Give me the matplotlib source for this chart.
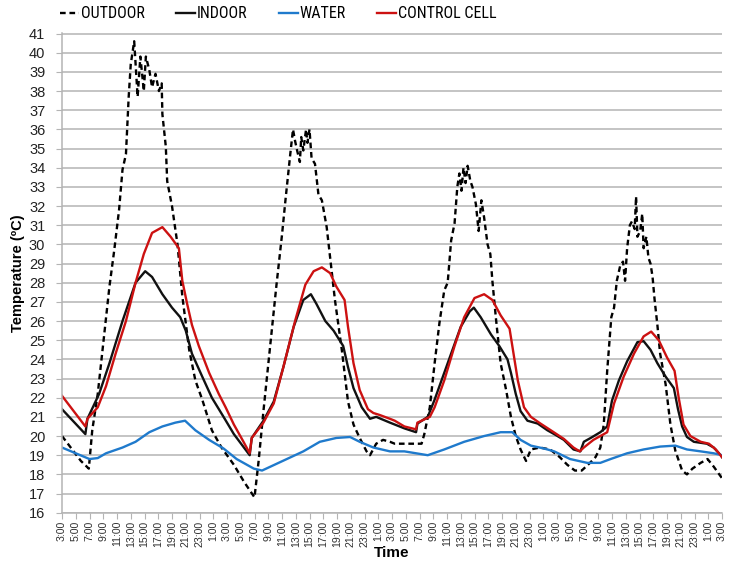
import matplotlib
matplotlib.use("Agg")
import matplotlib.pyplot as plt
from matplotlib.lines import Line2D
from matplotlib import font_manager
from matplotlib.font_manager import FontProperties
from matplotlib.textpath import TextPath

# ---------------- data (hours since 3:00 of day 1, temperature in ºC) ----------------
outdoor_t = [0, 2.75, 3.9, 4.4, 5.2, 5.9, 6.9, 7.6, 8.3, 8.8, 9.3, 9.7, 10.0, 10.5, 11.0, 11.4, 11.9,
             12.2, 12.7, 13.1, 13.6, 14.1, 14.5, 14.6, 15.1, 15.3, 16.0, 16.8, 17.5, 18.5, 19.4, 20.4,
             21.8, 23.2, 25.0, 26.5, 28.0, 28.6, 29.3, 30.3, 31.2, 32.0, 32.5, 33.2, 33.6, 33.9, 34.2,
             34.6, 34.8, 35.1, 35.5, 35.7, 36.0, 36.3, 36.8, 37.3, 37.8, 38.5, 39.0, 39.7, 40.7, 41.6,
             42.4, 43.3, 44.3, 44.8, 45.7, 46.7, 47.7, 48.4, 49.8, 52.3, 52.7, 53.5, 54.2, 54.9, 55.6,
             56.1, 56.6, 57.1, 57.5, 57.8, 58.1, 58.4, 58.7, 59.0, 59.4, 59.7, 60.2, 60.6, 61.0, 61.4,
             61.9, 62.3, 62.6, 63.1, 63.8, 64.6, 65.3, 66.0, 66.7, 67.5, 68.2, 69.5, 71.0, 72.4, 73.5,
             74.6, 75.6, 76.8, 77.6, 78.3, 78.8, 79.3, 79.9, 80.3, 80.7, 81.2, 81.6, 81.9, 82.2, 82.6,
             82.9, 83.3, 83.5, 83.7, 84.1, 84.4, 84.6, 85.0, 85.3, 85.6, 85.9, 86.2, 86.6, 87.0, 87.8,
             88.5, 89.2, 90.2, 90.9, 91.7, 92.9, 93.9, 94.8, 95.8, 96.0]
outdoor_T = [20.0, 18.7, 18.3, 20.3, 22.2, 24.5, 27.8, 29.7, 31.8, 33.9, 34.7, 37.7, 39.4, 40.6, 37.7, 39.8, 38.0,
             39.8, 39.1, 38.2, 38.9, 38.0, 38.4, 36.8, 35.1, 33.3, 32.0, 30.0, 27.3, 24.5, 22.9, 21.9,
             20.3, 19.4, 18.5, 17.6, 16.8, 18.7, 21.3, 24.8, 27.9, 30.5, 32.3, 34.7, 36.0, 35.4, 34.9,
             34.3, 35.6, 34.9, 36.0, 35.3, 36.0, 34.5, 34.2, 32.6, 32.3, 30.9, 29.3, 27.1, 24.5, 21.8,
             20.6, 19.9, 19.2, 19.0, 19.6, 19.8, 19.7, 19.6, 19.6, 19.6, 20.1, 21.5, 23.8, 25.9, 27.6,
             28.0, 30.2, 31.1, 33.0, 33.7, 32.8, 34.0, 33.2, 34.1, 33.3, 33.0, 32.1, 30.7, 32.3, 31.4,
             30.0, 29.5, 28.1, 26.2, 23.8, 22.4, 21.0, 20.0, 19.3, 18.7, 19.3, 19.4, 19.3, 18.9, 18.5,
             18.2, 18.2, 18.6, 18.9, 19.4, 20.6, 23.4, 26.2, 26.7, 28.1, 28.9, 29.1, 28.1, 29.8, 31.0,
             31.2, 30.8, 32.5, 30.4, 30.7, 31.6, 29.8, 30.4, 29.3, 29.0, 28.3, 27.1, 25.8, 24.3, 22.7,
             20.6, 19.25, 18.2, 18.0, 18.3, 18.6, 18.8, 18.4, 17.9, 17.8]

indoor_t = [0, 3.4, 3.7, 5.4, 6.9, 8.8, 10.7, 12.1, 13.1, 14.6, 16.0, 17.2, 18.0, 18.9, 20.4, 21.8, 23.5,
            25.0, 27.3, 27.6, 29.3, 30.8, 32.2, 33.7, 35.1, 36.2, 37.0, 38.3, 39.5, 40.9, 41.6, 42.4,
            43.6, 44.8, 45.7, 47.7, 49.8, 51.5, 51.7, 53.2, 54.2, 55.4, 56.6, 58.0, 59.3, 59.9, 60.9,
            62.4, 63.6, 64.8, 65.3, 66.0, 66.7, 67.7, 69.2, 70.6, 71.6, 73.0, 74.4, 75.4, 75.9, 76.9,
            78.3, 79.3, 80.0, 81.0, 82.2, 83.7, 84.6, 85.6, 86.6, 87.8, 89.0, 89.6, 90.2, 90.9, 91.9,
            93.8, 94.8, 95.8, 96.0]
indoor_T = [21.4, 20.1, 20.9, 22.2, 23.8, 26.0, 28.0, 28.6, 28.3, 27.4, 26.7, 26.2, 25.5, 24.3, 23.1, 22.0, 21.0,
            20.1, 19.0, 19.9, 20.8, 21.8, 23.6, 25.7, 27.1, 27.4, 26.9, 26.0, 25.5, 24.7, 23.6, 22.5,
            21.5, 20.9, 21.0, 20.7, 20.4, 20.2, 20.65, 21.0, 21.9, 23.1, 24.3, 25.7, 26.5, 26.7, 26.2,
            25.3, 24.7, 24.0, 23.3, 22.2, 21.3, 20.8, 20.65, 20.3, 20.1, 19.8, 19.3, 19.2, 19.7, 19.9,
            20.2, 20.5, 21.85, 22.9, 23.9, 24.9, 24.95, 24.5, 23.8, 23.1, 22.5, 21.4, 20.5, 19.95, 19.7,
            19.6, 19.4, 19.0, 18.9]

water_t = [0, 2, 4, 5.2, 6.4, 8.8, 10.7, 12.7, 14.6, 16.5, 17.9, 19.4, 21.4, 23.5, 25.4, 27.9, 29.1,
           30.3, 32.7, 35.1, 37.5, 39.9, 41.9, 43.3, 45.3, 47.7, 49.8, 53.2, 55.6, 58.5, 61.4, 63.8,
           65.5, 66.7, 68.2, 70.1, 71.6, 73.9, 76.4, 78.3, 79.8, 82.2, 84.6, 87.0, 89.2, 90.9, 92.9,
           94.8, 96.0]
water_T = [19.4, 19.1, 18.8, 18.85, 19.1, 19.4, 19.7, 20.2, 20.5, 20.7, 20.8, 20.3, 19.8, 19.35, 18.8, 18.3, 18.2,
           18.4, 18.8, 19.2, 19.7, 19.9, 19.95, 19.7, 19.4, 19.2, 19.2, 19.0, 19.3, 19.7, 20.0, 20.2,
           20.2, 19.8, 19.5, 19.35, 19.2, 18.8, 18.6, 18.6, 18.8, 19.1, 19.3, 19.45, 19.5, 19.3, 19.2,
           19.1, 19.0]

control_t = [0, 3.4, 3.7, 5.2, 6.4, 7.8, 9.3, 10.7, 11.9, 13.1, 14.6, 15.8, 17.0, 17.5, 18.2, 18.9, 19.9,
             21.4, 22.8, 23.8, 25.0, 26.4, 27.3, 27.6, 29.3, 30.8, 32.2, 33.9, 35.4, 36.6, 37.8, 39.0,
             39.9, 41.1, 41.6, 42.4, 43.3, 44.5, 45.3, 46.2, 47.7, 48.4, 49.8, 51.5, 51.7, 53.5, 54.2,
             55.6, 57.1, 58.5, 60.0, 61.4, 62.6, 63.8, 65.1, 65.5, 66.3, 67.2, 68.2, 69.6, 71.1, 73.0,
             74.4, 75.3, 75.9, 77.3, 79.3, 80.3, 81.7, 83.2, 84.6, 85.7, 86.8, 88.0, 89.1, 89.7, 90.4,
             91.4, 92.9, 94.1, 95.1, 96.0]
control_T = [22.1, 20.5, 20.9, 21.5, 22.6, 24.3, 26.0, 28.0, 29.5, 30.6, 30.9, 30.4, 29.8, 28.1, 26.9, 25.8, 24.7,
             23.3, 22.2, 21.5, 20.6, 19.7, 19.1, 19.9, 20.7, 21.7, 23.6, 26.0, 27.9, 28.6, 28.8, 28.5,
             27.8, 27.1, 25.7, 23.8, 22.4, 21.4, 21.2, 21.1, 20.9, 20.8, 20.5, 20.35, 20.7, 21.0, 21.5,
             22.9, 24.7, 26.2, 27.2, 27.4, 27.1, 26.3, 25.6, 24.7, 22.9, 21.5, 21.0, 20.65, 20.3, 19.85,
             19.4, 19.2, 19.4, 19.8, 20.2, 21.7, 23.1, 24.3, 25.2, 25.45, 25.0, 24.1, 23.4, 22.0, 20.6,
             20.0, 19.7, 19.6, 19.3, 18.9]

tick_hours = list(range(0, 97, 2))
tick_labels = ["3:00", "5:00", "7:00", "9:00", "11:00", "13:00", "15:00", "17:00", "19:00", "21:00", "23:00",
               "1:00", "3:00", "5:00", "7:00", "9:00", "11:00", "13:00", "15:00", "17:00", "19:00", "21:00", "23:00",
               "1:00", "3:00", "5:00", "7:00", "9:00", "11:00", "13:00", "15:00", "17:00", "19:00", "21:00", "23:00",
               "1:00", "3:00", "5:00", "7:00", "9:00", "11:00", "13:00", "15:00", "17:00", "19:00", "21:00", "23:00",
               "1:00", "3:00"]
y_ticks = list(range(16, 42))
series_names = ["OUTDOOR", "INDOOR", "WATER", "CONTROL CELL"]

# ---------------- style ----------------
FONT = ["Liberation Sans", "DejaVu Sans"]
plt.rcParams["font.family"] = FONT

# pick a narrow font for the legend if one is installed
legend_prop = None
names = {f.name: f for f in font_manager.fontManager.ttflist}
for cand in ["Liberation Sans Narrow", "Arial Narrow", "Roboto Condensed", "Open Sans Condensed"]:
    if cand in names:
        legend_prop = FontProperties(family=cand)
        break
if legend_prop is None:
    for f in font_manager.fontManager.ttflist:
        if f.name in ("DejaVu Sans", "Noto Sans", "Open Sans", "Roboto") and \
                str(f.stretch) in ("condensed", "semi-condensed", "75", "87.5") and f.weight in (400, "normal", "regular"):
            legend_prop = FontProperties(fname=f.fname)
            break
if legend_prop is None:
    legend_prop = FontProperties(family="Liberation Sans")
# size the legend text so that "OUTDOOR" is about 63 px wide (as in the reference)
tp = TextPath((0, 0), "OUTDOOR", size=10, prop=legend_prop)
wpt = tp.get_extents().width  # in points at size 10
leg_size = min(11.5, 10 * (63 / 1.3889) / wpt)
legend_prop.set_size(leg_size)

W, H = 732, 562
fig = plt.figure(figsize=(W / 100, H / 100), dpi=100)
left, right, top, bottom = 62, 722, 33, 512.7
ax = fig.add_axes([left / W, 1 - bottom / H, (right - left) / W, (bottom - top) / H])

grid_c = "#b4b4b4"
ax.set_xlim(0, 96)
ax.set_ylim(16, 41.03)
ax.set_yticks(y_ticks)
ax.set_xticks(tick_hours)
ax.set_xticklabels(tick_labels, rotation=90, fontsize=7.6, color="#303030")
ax.tick_params(axis="y", labelsize=10.5, colors="#222222", length=4, color=grid_c, pad=8)
ax.tick_params(axis="x", length=4, color=grid_c, pad=2)
for lab in ax.get_yticklabels():
    lab.set_color("#222222")
ax.yaxis.grid(True, color=grid_c, lw=1.1)
ax.set_axisbelow(True)
for s in ["top", "right"]:
    ax.spines[s].set_visible(False)
for s in ["left", "bottom"]:
    ax.spines[s].set_color(grid_c)
    ax.spines[s].set_linewidth(1.1)

c_out, c_in, c_w, c_cc = "#000000", "#111111", "#1f7acc", "#cc1111"
lw = 1.7
dash = (0, (2.4, 1.6))
ax.plot(outdoor_t, outdoor_T, color=c_out, lw=lw, ls=dash)
ax.plot(indoor_t, indoor_T, color=c_in, lw=lw)
ax.plot(water_t, water_T, color=c_w, lw=lw)
ax.plot(control_t, control_T, color=c_cc, lw=lw)

ax.set_ylabel("Temperature (ºC)", fontsize=10.5, fontweight="bold")
ax.yaxis.set_label_coords(-(left - 25) / (right - left), 0.5)
fig.text(392 / W, 1 - 553 / H, "Time", fontsize=11, fontweight="bold", ha="center", va="center")

handles = [Line2D([], [], color=c_out, lw=lw, ls=dash),
           Line2D([], [], color=c_in, lw=lw),
           Line2D([], [], color=c_w, lw=lw),
           Line2D([], [], color=c_cc, lw=lw)]
fs_px = leg_size * 100 / 72
fig.legend(handles, series_names, loc="center left", bbox_to_anchor=(60 / W, 1 - 14 / H),
           ncol=4, frameon=False, borderpad=0, borderaxespad=0,
           handlelength=19 / fs_px, handletextpad=2 / fs_px, columnspacing=31 / fs_px,
           prop=legend_prop)

fig.savefig("out.png", dpi=100)
